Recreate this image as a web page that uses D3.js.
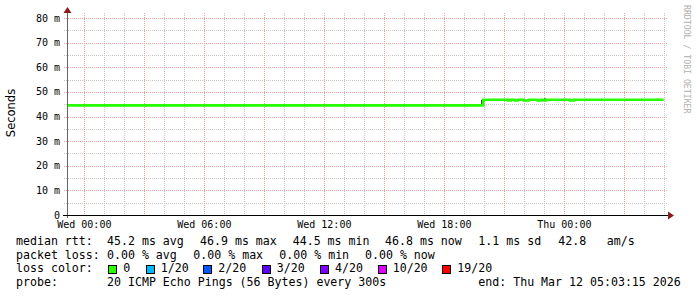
<!DOCTYPE html>
<html><head><meta charset="utf-8">
<script src="https://cdn.jsdelivr.net/npm/d3@7"></script>
<style>html,body{margin:0;padding:0;background:#fff;} svg{display:block}</style>
</head><body><svg id="c" width="697" height="297"></svg>
<script>
// ---------- data ----------
const BASE = Date.UTC(2026, 2, 11, 0, 0, 0); // Wed 00:00 (UTC)
const hr = h => new Date(BASE + h * 3600e3);

// median rtt (ms), step changes, hours relative to Wed 00:00
const rttHours = [-0.87, 19.95, 21.17, 21.32, 21.53, 21.68, 21.98, 22.23, 22.68, 22.83, 22.98, 23.08, 24.28, 24.48, 28.97];
const rttMs    = [44.5,  46.8,  46.5,  46.8,  46.5,  46.8,  46.5,  46.8,  46.5,  46.8,  46.5,  46.8,  46.5,  46.8,  46.8];

// smoke (min/max of pings) where visible
const smokeHours = [19.84, 22.98];
const smokeLo    = [44.6, 46.8];
const smokeHi    = [46.8, 47.4];

const yTicks = [0, 10, 20, 30, 40, 50, 60, 70, 80];            // ms
const xTickHours = [0, 6, 12, 18, 24];
const xTickLabels = ["Wed 00:00", "Wed 06:00", "Wed 12:00", "Wed 18:00", "Thu 00:00"];

const statRtt  = ["45.2 ms avg", "46.9 ms max", "44.5 ms min", "46.8 ms now", "1.1 ms sd", "42.8", "am/s"];
const statLoss = ["0.00 % avg", "0.00 % max", "0.00 % min", "0.00 % now"];
const lossLabels = ["0", "1/20", "2/20", "3/20", "4/20", "10/20", "19/20"];
const lossColors = ["#26ff00", "#00b8ff", "#0059ff", "#5e00ff", "#7e00ff", "#dd00ff", "#ff0000"];
const probeText = "20 ICMP Echo Pings (56 Bytes) every 300s";
const endText = "end: Thu Mar 12 05:03:15 2026";

// ---------- layout ----------
const L = 67, R = 667, T = 18, B = 215;
const mono = "'DejaVu Sans Mono', monospace";
const svg = d3.select("#c");

const x = d3.scaleUtc().domain([hr(-52/60), hr(30 - 52/60)]).range([L, R]);
const y = d3.scaleLinear().domain([0, 80]).range([B, T]);

// ---------- grid ----------
const g = svg.append("g").attr("shape-rendering", "crispEdges");
// minor horizontal (every 5 ms)
const yMinor = d3.range(5, 80, 10);
g.selectAll(".hm").data(yMinor).join("line")
  .attr("x1", L - 3).attr("x2", R + 1).attr("y1", d => Math.round(y(d)) + 0.5).attr("y2", d => Math.round(y(d)) + 0.5)
  .attr("stroke", "#c8c8c8").attr("stroke-dasharray", "1,1");
// minor vertical (every hour)
const hMinor = d3.utcHour.range(x.domain()[0], x.domain()[1]).filter(d => d.getUTCHours() % 3 !== 0);
g.selectAll(".vm").data(hMinor).join("line")
  .attr("x1", d => Math.round(x(d)) + 0.5).attr("x2", d => Math.round(x(d)) + 0.5).attr("y1", 13).attr("y2", B)
  .attr("stroke", "#c8c8c8").attr("stroke-dasharray", "1,1");
// major horizontal
g.selectAll(".hM").data(yTicks.filter(d => d > 0)).join("line")
  .attr("x1", L - 3).attr("x2", R + 1).attr("y1", d => Math.round(y(d)) + 0.5).attr("y2", d => Math.round(y(d)) + 0.5)
  .attr("stroke", "#eda0a0").attr("stroke-dasharray", "1,1");
// major vertical (every 3 hours)
const hMajor = d3.utcHour.range(x.domain()[0], x.domain()[1]).filter(d => d.getUTCHours() % 3 === 0);
g.selectAll(".vM").data(hMajor).join("line")
  .attr("x1", d => Math.round(x(d)) + 0.5).attr("x2", d => Math.round(x(d)) + 0.5).attr("y1", 13).attr("y2", B)
  .attr("stroke", "#eda0a0").attr("stroke-dasharray", "1,1");

// ---------- smoke ----------
svg.selectAll(".smoke").data(smokeHours).join("rect")
  .attr("x", d => x(hr(d))).attr("width", 2)
  .attr("y", (d, i) => y(smokeHi[i])).attr("height", (d, i) => y(smokeLo[i]) - y(smokeHi[i]))
  .attr("fill", "#333");

// ---------- median line ----------
const pts = rttHours.map((h, i) => [hr(h), rttMs[i]]);
svg.append("path").datum(pts)
  .attr("d", d3.line().x(d => x(d[0])).y(d => y(d[1])).curve(d3.curveStepAfter))
  .attr("fill", "none").attr("stroke", lossColors[0]).attr("stroke-width", 2.6);

// ---------- axes ----------
svg.append("line").attr("x1", L + 0.5).attr("x2", L + 0.5).attr("y1", B + 3).attr("y2", 12)
  .attr("stroke", "#666").attr("shape-rendering", "crispEdges");
svg.append("line").attr("x1", L - 4).attr("x2", R + 2).attr("y1", B + 0.5).attr("y2", B + 0.5)
  .attr("stroke", "#000").attr("shape-rendering", "crispEdges");
svg.append("path").attr("d", `M${L - 3.5},13 L${L + 4.5},13 L${L + 0.5},7 Z`).attr("fill", "#8b1a1a");
svg.append("path").attr("d", `M${R + 1},${B - 3.5} L${R + 1},${B + 4.5} L${R + 7},${B + 0.5} Z`).attr("fill", "#8b1a1a");

// y labels
svg.selectAll(".yl").data(yTicks).join("text")
  .attr("x", 60).attr("y", d => y(d)).attr("dy", "0.36em").attr("text-anchor", "end")
  .attr("font-family", mono).attr("font-size", 10).attr("fill", "#000")
  .text(d => d === 0 ? "0" : `${d} m`);
// x labels
svg.selectAll(".xl").data(xTickHours).join("text")
  .attr("x", d => x(hr(d))).attr("y", 228).attr("text-anchor", "middle")
  .attr("font-family", mono).attr("font-size", 10).attr("fill", "#000")
  .text((d, i) => xTickLabels[i]);

// y title
svg.append("text").attr("transform", "translate(15,113) rotate(-90)").attr("text-anchor", "middle")
  .attr("font-family", "'DejaVu Sans', sans-serif").attr("font-size", 11.5).attr("fill", "#000").text("Seconds");

// watermark
svg.append("text").attr("transform", "translate(684,5) rotate(90)")
  .attr("font-family", mono).attr("font-size", 8.2).attr("fill", "#b0b0b0").text("RRDTOOL / TOBI OETIKER");

// ---------- legend ----------
const fs = 11.6;
const rows = [245, 258.7, 272.4, 286];
const txt = (xx, yy, s) => svg.append("text").attr("x", xx).attr("y", yy)
  .attr("font-family", mono).attr("font-size", fs).attr("fill", "#000").attr("xml:space", "preserve").text(s);

txt(16, rows[0], "median rtt:");
const rttX = [107, 200, 292.7, 385, 478.3, 558.3, 606.7];
statRtt.forEach((s, i) => txt(rttX[i], rows[0], s));

txt(16, rows[1], "packet loss:");
const lossX = [107, 193.3, 279.3, 365];
statLoss.forEach((s, i) => txt(lossX[i], rows[1], s));

txt(16, rows[2], "loss color:");
const swX = [108.3, 145.7, 203.3, 261.7, 320, 377.7, 442.3];
lossLabels.forEach((s, i) => {
  svg.append("rect").attr("x", swX[i] + 0.5).attr("y", 265.5).attr("width", 8).attr("height", 8)
    .attr("fill", lossColors[i]).attr("stroke", "#000").attr("stroke-width", 1).attr("shape-rendering", "crispEdges");
  txt(swX[i] + 15, rows[2], s);
});

txt(16, rows[3], "probe:");
txt(107, rows[3], probeText);
txt(478.3, rows[3], endText);
</script></body></html>
